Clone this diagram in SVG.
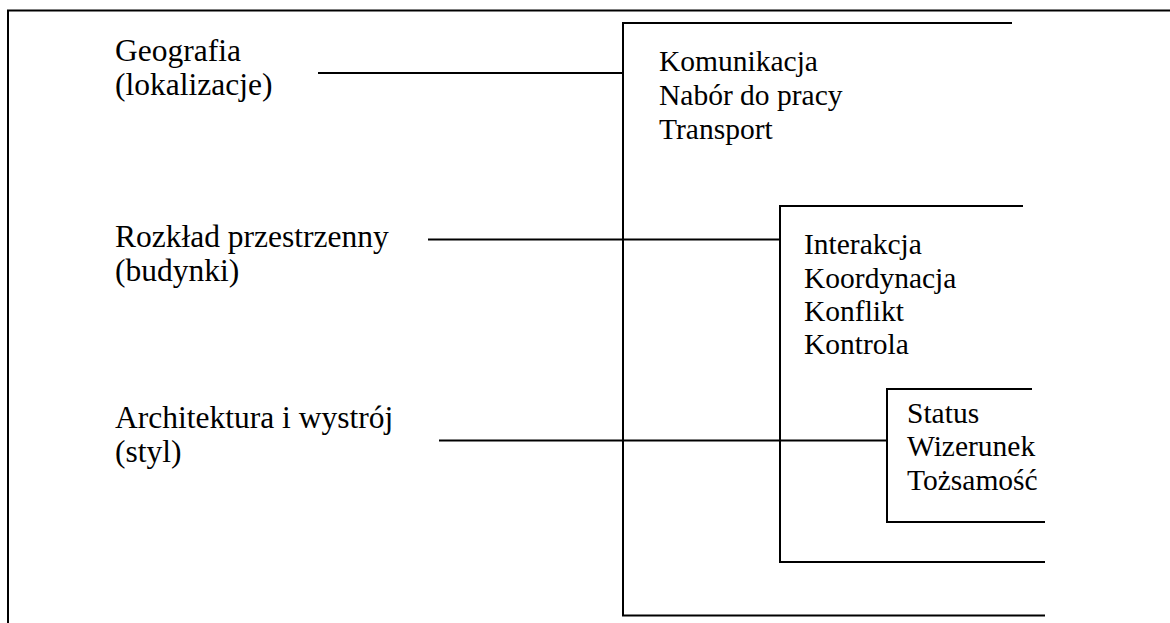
<svg xmlns="http://www.w3.org/2000/svg" width="1170" height="623" viewBox="0 0 1170 623">
  <style>
    .ln { stroke: #000; stroke-width: 2; fill: none; }
    .t { font-family: "Liberation Serif", "Times New Roman", serif; font-size: 29.5px; fill: #000; }
    .big { font-size: 31.5px; }
  </style>
  <rect width="1170" height="623" fill="#fff"/>

  <!-- page frame -->
  <g id="frame">
    <path class="ln" d="M8,623 V10.5 H1170"/>
  </g>

  <!-- left factors -->
  <g id="geografia">
    <text class="t big" x="115" y="61">Geografia</text>
    <text class="t big" x="115" y="95">(lokalizacje)</text>
  </g>
  <g id="rozklad">
    <text class="t big" x="115" y="247">Rozkład przestrzenny</text>
    <text class="t big" x="115" y="281">(budynki)</text>
  </g>
  <g id="architektura">
    <text class="t big" x="115" y="428">Architektura i wystrój</text>
    <text class="t big" x="115" y="462">(styl)</text>
  </g>

  <!-- nested brackets -->
  <g id="komunikacja">
    <path class="ln" d="M1012,23 H623 V615.5 H1045"/>
    <text class="t" x="659" y="71">Komunikacja</text>
    <text class="t" x="659" y="105">Nabór do pracy</text>
    <text class="t" x="659" y="139">Transport</text>
  </g>
  <g id="interakcja">
    <path class="ln" d="M1023,206 H780 V562 H1045"/>
    <text class="t" x="804" y="254">Interakcja</text>
    <text class="t" x="804" y="288">Koordynacja</text>
    <text class="t" x="804" y="321">Konflikt</text>
    <text class="t" x="804" y="354">Kontrola</text>
  </g>
  <g id="status">
    <path class="ln" d="M1032,389 H887 V522 H1045"/>
    <text class="t" x="907" y="423">Status</text>
    <text class="t" x="907" y="456">Wizerunek</text>
    <text class="t" x="907" y="490">Tożsamość</text>
  </g>

  <!-- connectors -->
  <g id="connectors">
    <line class="ln" x1="318" y1="73" x2="623" y2="73"/>
    <line class="ln" x1="428" y1="239.5" x2="780" y2="239.5"/>
    <line class="ln" x1="439" y1="440.5" x2="887" y2="440.5"/>
  </g>
</svg>
